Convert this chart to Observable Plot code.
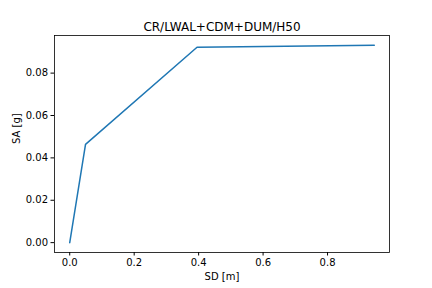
<!DOCTYPE html>
<html>
<head>
<meta charset="utf-8">
<script src="https://cdn.jsdelivr.net/npm/d3@7"></script>
<script src="https://cdn.jsdelivr.net/npm/@observablehq/plot@0.6"></script>
<style>
  html, body { margin: 0; padding: 0; background: #fff; }
  svg { display: block; }
</style>
</head>
<body>
<div id="chart"></div>
<script>
const title = "CR/LWAL+CDM+DUM/H50";
const xLabel = "SD [m]";
const yLabel = "SA [g]";
const sd = [0, 0.049, 0.395, 0.945];
const sa = [0, 0.0464, 0.0922, 0.0931];
const xTicks = [0, 0.2, 0.4, 0.6, 0.8];
const yTicks = [0, 0.02, 0.04, 0.06, 0.08];

const data = sd.map((x, i) => ({x, y: sa[i]}));
const xMax = d3.max(sd), yMax = d3.max(sa);
const font = "DejaVu Sans, sans-serif";

const plot = Plot.plot({
  width: 432,
  height: 288,
  marginLeft: 54,
  marginRight: 43,
  marginTop: 35,
  marginBottom: 36,
  style: {fontFamily: font, fontSize: "10px", color: "#000", background: "#fff"},
  x: {domain: [-0.05 * xMax, 1.05 * xMax], ticks: xTicks, tickFormat: d3.format(".1f"), tickSize: 3.5, tickPadding: 3, label: null},
  y: {domain: [-0.05 * yMax, 1.05 * yMax], ticks: yTicks, tickFormat: d3.format(".2f"), tickSize: 3.5, tickPadding: 3, label: null},
  marks: [
    Plot.line(data, {x: "x", y: "y", stroke: "#1f77b4", strokeWidth: 1.5}),
    Plot.frame({stroke: "#000", strokeWidth: 0.8}),
    Plot.text([title], {frameAnchor: "top", dy: -13, fontSize: 12, fill: "#000"}),
    Plot.text([xLabel], {frameAnchor: "bottom", dy: 27, fontSize: 10, fill: "#000"}),
    Plot.text([yLabel], {frameAnchor: "left", dx: -37.5, rotate: -90, fontSize: 10, fill: "#000"})
  ]
});
document.getElementById("chart").appendChild(plot);
</script>
</body>
</html>
